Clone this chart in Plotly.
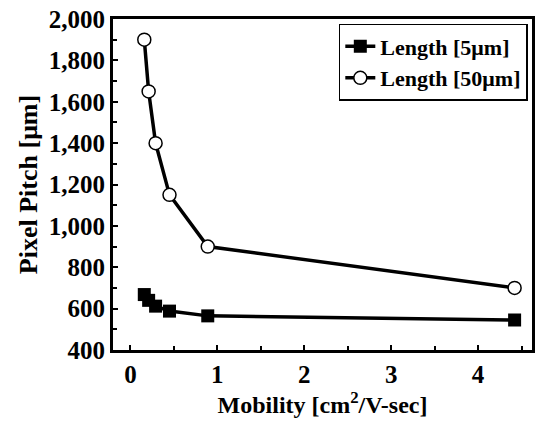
import plotly.graph_objects as go

mobility = [0.16, 0.21, 0.29, 0.45, 0.89, 4.42]
pitch_5um = [668, 640, 612, 588, 565, 545]
pitch_50um = [1900, 1650, 1400, 1150, 900, 700]
x_ticks = [0, 1, 2, 3, 4]
y_ticks = [400, 600, 800, 1000, 1200, 1400, 1600, 1800, 2000]

font = "Liberation Serif"

fig = go.Figure()
fig.add_trace(go.Scatter(
    x=mobility, y=pitch_5um, mode="lines+markers", name="<b>Length [5μm]</b>",
    line=dict(color="black", width=3.5),
    marker=dict(symbol="square", size=13, color="black"),
))
fig.add_trace(go.Scatter(
    x=mobility, y=pitch_50um, mode="lines+markers", name="<b>Length [50μm]</b>",
    line=dict(color="black", width=3.5),
    marker=dict(symbol="circle", size=13, color="white", line=dict(color="black", width=1.5)),
))

fig.update_layout(
    width=541, height=426,
    margin=dict(l=113, r=6, t=17, b=76),
    paper_bgcolor="white", plot_bgcolor="white",
    font=dict(family=font, size=20, color="black"),
    showlegend=True,
    legend=dict(x=0.99, y=0.985, xanchor="right", yanchor="top",
                bordercolor="black", borderwidth=1.5, bgcolor="white",
                font=dict(family=font, size=22, color="black"),
                tracegroupgap=0, itemwidth=30),
    xaxis=dict(
        range=[-0.2, 4.62], tickvals=x_ticks, ticktext=[f"<b>{v}</b>" for v in x_ticks],
        ticks="inside", ticklen=5, tickwidth=2, tickcolor="black",
        minor=dict(dtick=0.5, tick0=0, ticks="inside", ticklen=4, tickwidth=1.5, tickcolor="black"),
        showline=True, linecolor="black", linewidth=3, mirror=True,
        showgrid=False, zeroline=False,
        title=dict(text="<b>Mobility [cm<sup>2</sup>/V-sec]</b>", font=dict(family=font, size=24), standoff=6),
        tickfont=dict(family=font, size=25),
    ),
    yaxis=dict(
        range=[400, 2000], tickvals=y_ticks, ticktext=[f"<b>{v:,}</b>" for v in y_ticks],
        ticks="inside", ticklen=5, tickwidth=2, tickcolor="black",
        minor=dict(dtick=100, tick0=400, ticks="inside", ticklen=4, tickwidth=1.5, tickcolor="black"),
        showline=True, linecolor="black", linewidth=3, mirror=True,
        showgrid=False, zeroline=False,
        title=dict(text="<b>Pixel Pitch [μm]</b>", font=dict(family=font, size=26), standoff=4),
        tickfont=dict(family=font, size=25),
    ),
)

fig.write_html("out.html")
